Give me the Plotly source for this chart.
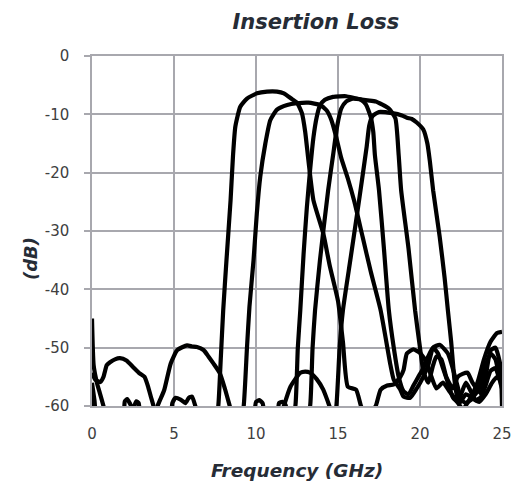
import plotly.graph_objects as go

# ---- data (frequency in GHz, insertion loss in dB) ----
freq_a = [0, 0.2, 0.5, 0.7, 0.9, 1.1, 1.4, 1.7, 2.1, 2.5, 2.9, 3.2, 3.4, 3.6, 3.75, 3.95, 5.5, 7.5, 7.7, 7.85, 8.0, 8.2, 8.45, 8.6, 8.74,
          9.04, 9.45, 10.06, 10.67, 11.28, 11.7, 12.2, 12.5, 12.8, 13.0, 13.2, 13.5, 14.1, 14.5, 15.0, 15.3, 15.6, 16.1,
          16.4, 16.7, 17.0, 17.3, 17.6, 18.0, 18.4, 18.8, 19.0, 19.2, 19.6, 20.0, 20.4, 20.7, 21.0, 21.4, 21.8, 22.2,
          22.6, 23.0, 23.5, 23.9, 24.3, 24.7, 25.0]
loss_a = [-54.3, -55.5, -55.9, -55.0, -53.0, -52.5, -52.0, -51.8, -52.2, -53.3, -54.4, -55.0, -56.5, -58.5, -60.0, -63, -63, -63, -60.0, -52.0, -43.6, -35.0, -24.7, -17.0, -12.1,
          -8.7, -7.3, -6.4, -6.1, -6.1, -6.4, -7.4, -8.0, -9.8, -13.0, -18.0, -24.7, -30.4, -36.0, -42.0, -49.0, -56.7, -57.2,
          -60.0, -62.0, -61.0, -60.0, -57.2, -56.5, -56.3, -55.0, -53.8, -51.0, -50.3, -50.9, -52.5, -55.0, -57.0, -56.0, -57.5, -59.0,
          -60.5, -59.0, -56.0, -52.0, -49.0, -47.5, -47.3]

freq_b = [0, 0.1, 0.3, 0.5, 0.7, 0.9, 3.9, 4.0, 4.4, 4.8, 5.2, 5.8, 6.1, 6.4, 6.8, 7.1, 7.4, 7.8, 8.1, 8.4, 8.6, 9.1,
          9.25, 9.45, 9.6, 9.85, 10.05, 10.26, 10.57, 10.87, 11.28, 11.9, 12.5, 13.2, 13.9, 14.3, 14.6, 14.9, 15.2,
          15.6, 16.0, 16.5, 17.0, 17.6, 18.2, 18.4, 18.8, 19.0, 19.4, 19.8, 20.2, 20.5, 20.8, 21.2, 21.7, 21.9, 22.3,
          22.5, 22.8, 23.2, 23.6, 24.0, 24.4, 24.7, 25.0]
loss_b = [-45.0, -53.0, -56.0, -58.0, -60.0, -62, -62, -60.0, -57.3, -52.7, -50.4, -49.6, -49.8, -49.9, -50.4, -51.5, -52.7, -54.4, -57.0, -60.0, -62, -62,
          -60.0, -50.0, -43.0, -35.0, -27.0, -20.7, -15.0, -11.0, -9.2, -8.4, -8.1, -8.0, -8.4, -9.3, -11.0, -14.0, -17.5,
          -21.0, -25.0, -31.0, -37.0, -43.6, -53.0, -55.5, -57.2, -58.4, -58.6, -57.0, -55.0, -53.0, -50.0, -49.5, -51.0, -52.6, -56.7,
          -58.9, -59.5, -58.8, -59.3, -58.0, -56.0, -55.0, -56.0]

freq_c = [0, 0.2, 1.9, 2.0, 2.15, 2.3, 2.5, 2.7, 2.85, 3.0, 9.8, 10.0, 10.2, 10.4, 10.6, 12.2,
          12.4, 12.55, 12.7, 12.9, 13.1, 13.3, 13.5, 13.7, 13.9, 14.2, 14.7, 15.5, 16.05, 16.8, 17.3, 18.1, 18.5,
          18.7, 18.85, 19.3, 19.7, 20.0, 20.2, 20.5, 20.8, 21.0, 21.3, 21.6, 22.0, 22.3, 22.6, 22.9, 23.2, 23.7,
          24.0, 24.3, 24.6, 24.9, 25.0]
loss_c = [-58.0, -61.5, -61.5, -59.2, -58.8, -59.5, -60.5, -59.2, -59.5, -62, -62, -59.3, -59.0, -59.5, -62, -62,
          -60.0, -50.0, -43.6, -34.0, -26.0, -19.5, -14.0, -10.5, -8.5, -7.5, -7.0, -6.9, -7.25, -7.6, -7.8, -9.0, -10.7,
          -17.0, -23.0, -33.0, -43.6, -50.0, -54.0, -56.0, -53.0, -51.5, -52.0, -55.0, -57.0, -55.0, -54.5, -54.3, -56.0, -57.8,
          -55.0, -50.5, -50.0, -53.0, -60.0]

freq_d = [0, 0.15, 0.3, 4.8, 4.9, 5.1, 5.4, 5.7, 5.9, 6.1, 6.3, 6.5, 11.3, 11.4, 11.6, 11.8, 12.0, 13.1,
          13.3, 13.45, 13.6, 13.9, 14.4, 14.7, 14.95, 15.2, 15.5, 15.9, 16.4, 16.7, 17.0, 17.15, 17.25, 17.5, 17.8,
          18.1, 18.4, 18.7, 19.0, 19.3, 19.6, 19.9, 20.2, 20.5, 20.8, 21.1, 21.4, 21.7, 22.0, 22.4, 22.8, 23.2,
          23.6, 24.0, 24.3, 24.6, 24.9, 25.0]
loss_d = [-56.0, -59.0, -61.5, -61.0, -59.5, -58.6, -58.9, -59.5, -58.6, -58.4, -60.0, -62, -61, -59.5, -59.3, -59.8, -62, -62,
          -60.0, -50.0, -43.6, -35.0, -23.0, -17.0, -12.0, -9.0, -7.8, -7.3, -7.5, -8.3, -10.5, -13.0, -17.0, -23.0, -33.0,
          -43.6, -50.0, -55.0, -57.5, -58.0, -56.5, -55.0, -53.5, -51.5, -50.0, -51.0, -53.5, -56.0, -58.5, -59.5, -58.0, -58.5,
          -57.0, -53.0, -51.0, -52.0, -56.0, -57.0]

freq_e = [0, 11.5, 11.7, 12.1, 12.7, 13.0, 13.3, 13.7, 14.1, 14.4, 14.6, 14.75,
          14.9, 15.1, 15.3, 15.75, 16.2, 16.5, 16.75, 16.9, 17.1, 17.5, 18.3, 18.9, 19.2, 19.5, 19.8, 20.2, 20.45,
          20.6, 20.8, 21.2, 21.5, 21.7, 21.9, 22.1, 22.3, 22.5, 22.8, 23.1, 23.4, 23.7, 24.0, 24.3, 24.6, 24.8, 25.0]
loss_e = [-62, -62, -60.0, -56.7, -54.3, -54.1, -54.3, -55.4, -57.2, -59.4, -61.0, -62,
          -60.0, -50.0, -43.6, -35.0, -26.4, -20.5, -15.5, -12.0, -10.3, -9.6, -9.8, -10.2, -10.6, -10.8, -11.4, -12.6, -15.0,
          -18.0, -23.0, -31.0, -38.0, -43.6, -49.0, -55.5, -59.0, -58.0, -56.0, -57.5, -59.0, -58.5, -56.5, -54.0, -53.5, -55.0, -56.0]

x_ticks = [0, 5, 10, 15, 20, 25]
y_ticks = [0, -10, -20, -30, -40, -50, -60]

title_text = "Insertion Loss"
x_title = "Frequency (GHz)"
y_title = "(dB)"

series = [(freq_a, loss_a), (freq_b, loss_b), (freq_c, loss_c), (freq_d, loss_d), (freq_e, loss_e)]

fig = go.Figure()
for fx, ly in series:
    fig.add_trace(go.Scatter(x=fx, y=ly, mode="lines",
                             line=dict(color="black", width=4.2, shape="spline", smoothing=0.5),
                             showlegend=False, hoverinfo="skip"))

grid_col = "#a8a8ae"
tick_font = dict(family="DejaVu Sans, Verdana, sans-serif", size=15, color="#404040")
title_font_fam = "DejaVu Sans, Verdana, sans-serif"

fig.update_layout(
    width=513, height=481,
    margin=dict(l=92, r=11, t=56, b=75, autoexpand=False),
    paper_bgcolor="white", plot_bgcolor="white",
    title=dict(text=f"<b><i>{title_text}</i></b>", x=0.546, xref="paper", xanchor="center",
               y=1 - 22 / 481, yref="container", yanchor="middle",
               font=dict(family=title_font_fam, size=21, color="#262c36")),
)
fig.update_xaxes(range=[0, 25], tickvals=x_ticks, ticktext=[str(v) for v in x_ticks],
                 showgrid=True, gridcolor=grid_col, gridwidth=1.5,
                 showline=True, linecolor=grid_col, linewidth=1.5, mirror=True, automargin=False,
                 zeroline=False, ticks="", ticklabelstandoff=13, tickfont=tick_font)
fig.update_yaxes(range=[-60, 0], tickvals=y_ticks, ticktext=[str(v) for v in y_ticks],
                 showgrid=True, gridcolor=grid_col, gridwidth=1.5,
                 showline=True, linecolor=grid_col, linewidth=1.5, mirror=True, automargin=False,
                 zeroline=False, ticks="outside", ticklen=6, tickcolor=grid_col, tickwidth=1.5,
                 ticklabelstandoff=12, tickfont=tick_font)

fig.add_annotation(text=f"<b><i>{x_title}</i></b>", xref="paper", yref="paper",
                   x=(297 - 92) / 410, y=-(470 - 406) / 350, xanchor="center", yanchor="middle",
                   showarrow=False, font=dict(family=title_font_fam, size=18.5, color="#262c36"))
fig.add_annotation(text=f"<b><i>{y_title}</i></b>", xref="paper", yref="paper",
                   x=-(92 - 30) / 410, y=(406 - 259) / 350, xanchor="center", yanchor="middle",
                   textangle=-90, showarrow=False,
                   font=dict(family=title_font_fam, size=18, color="#262c36"))

fig.write_html("out.html")
